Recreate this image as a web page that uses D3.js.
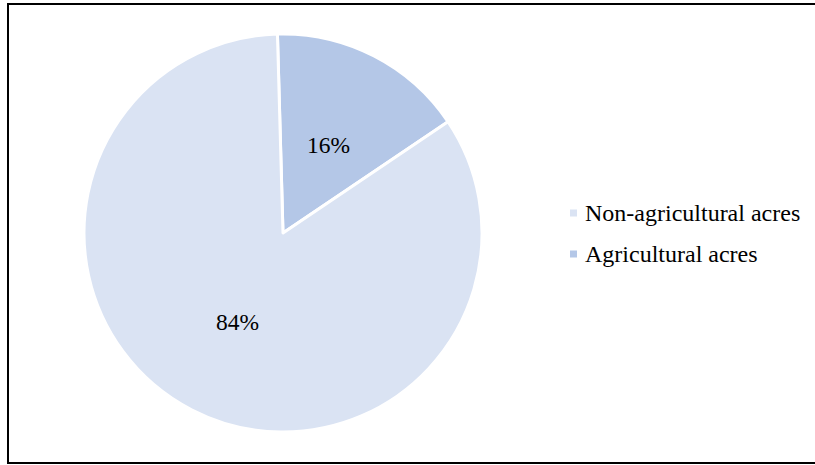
<!DOCTYPE html>
<html>
<head>
<meta charset="utf-8">
<script src="https://cdn.jsdelivr.net/npm/d3@7"></script>
<style>
	body { margin: 0; background: #fff; }
</style>
</head>
<body>
<svg id="chart" width="815" height="465"></svg>
<script>
"use strict";

const categories = ["Agricultural acres", "Non-agricultural acres"];
const shares = [16, 84];
const sliceColors = ["#b4c7e7", "#dae3f3"];
const legendOrder = ["Non-agricultural acres", "Agricultural acres"];

const fontFamily = "'Liberation Serif', 'Times New Roman', serif";
const svg = d3.select("#chart");

// outer frame
svg.append("rect")
	.attr("x", 8).attr("y", 4)
	.attr("width", 820).attr("height", 459)
	.attr("fill", "none")
	.attr("stroke", "#000")
	.attr("stroke-width", 2);

const cx = 283, cy = 233, radius = 199;
const color = d3.scaleOrdinal().domain(categories).range(sliceColors);

const startAt = -1.6 * Math.PI / 180;
const pie = d3.pie()
	.value((d, i) => shares[i])
	.sort(null)
	.startAngle(startAt)
	.endAngle(startAt + 2 * Math.PI);

const arc = d3.arc().innerRadius(0).outerRadius(radius);
const labelArc = d3.arc().innerRadius(radius * 0.5).outerRadius(radius * 0.5);

const g = svg.append("g").attr("transform", `translate(${cx},${cy})`);
const arcs = pie(categories);

g.selectAll("path")
	.data(arcs)
	.enter().append("path")
	.attr("d", arc)
	.attr("fill", d => color(d.data))
	.attr("stroke", "#fff")
	.attr("stroke-width", 3)
	.attr("stroke-linejoin", "round");

g.selectAll("text.pct")
	.data(arcs)
	.enter().append("text")
	.attr("class", "pct")
	.attr("transform", d => `translate(${labelArc.centroid(d)})`)
	.attr("text-anchor", "middle")
	.attr("dy", "0.35em")
	.attr("font-family", fontFamily)
	.attr("font-size", 23.5)
	.attr("fill", "#000")
	.text((d, i) => `${shares[i]}%`);

// legend
const legend = svg.append("g").attr("transform", "translate(570,213)");
const item = legend.selectAll("g")
	.data(legendOrder)
	.enter().append("g")
	.attr("transform", (d, i) => `translate(0,${i * 41})`);

item.append("rect")
	.attr("x", 0).attr("y", -3.5)
	.attr("width", 7).attr("height", 7)
	.attr("fill", d => color(d));

item.append("text")
	.attr("x", 15)
	.attr("dy", "0.35em")
	.attr("font-family", fontFamily)
	.attr("font-size", 24)
	.attr("fill", "#000")
	.text(d => d);
</script>
</body>
</html>
